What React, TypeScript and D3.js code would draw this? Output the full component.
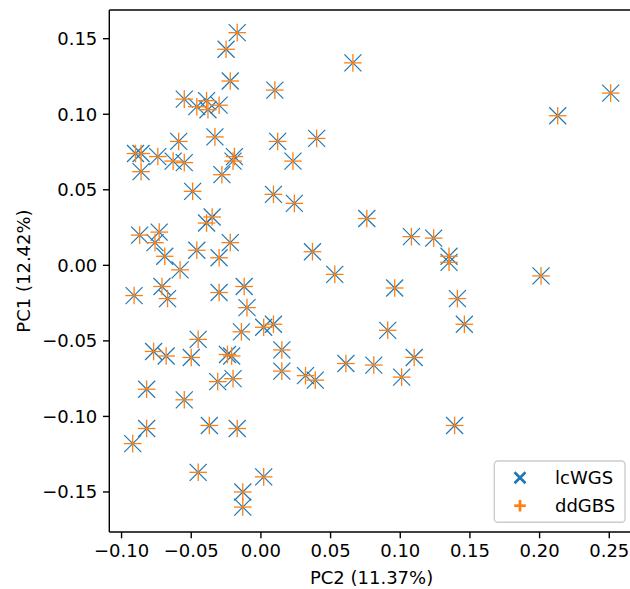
import React from "react";
import * as d3 from "d3";

// PC2 (x) / PC1 (y) scores
const lcwgsPC2 = [
  -0.017, -0.025, 0.066, -0.022, 0.01, 0.251, -0.055, -0.046, -0.039, -0.038,
  -0.03, 0.213, -0.059, -0.033, 0.012, 0.04, -0.09, -0.086, -0.086, -0.074,
  -0.063, -0.055, -0.019, -0.02, 0.023, -0.028, -0.049, 0.009, 0.024, 0.076,
  -0.087, -0.073, -0.076, -0.039, -0.035, -0.069, -0.046, -0.03, -0.022, 0.037,
  0.108, 0.124, 0.135, 0.135, -0.058, 0.053, 0.201, -0.091, -0.071, -0.067,
  -0.03, -0.012, -0.01, 0.096, 0.141, -0.014, 0.002, 0.009, 0.146, 0.091,
  -0.045, -0.077, -0.068, -0.05, -0.024, -0.021, 0.015, 0.015, 0.032, 0.039,
  0.061, 0.081, 0.11, 0.101, -0.031, -0.02, -0.082, -0.055, 0.139, -0.037,
  -0.017, -0.082, -0.092, -0.045, 0.002, -0.013, -0.013,
];
const lcwgsPC1 = [
  0.154, 0.143, 0.134, 0.122, 0.116, 0.114, 0.11, 0.105, 0.109, 0.103,
  0.106, 0.099, 0.082, 0.085, 0.082, 0.084, 0.074, 0.074, 0.062, 0.072,
  0.069, 0.068, 0.072, 0.069, 0.069, 0.06, 0.049, 0.047, 0.041, 0.031,
  0.02, 0.022, 0.015, 0.028, 0.032, 0.006, 0.01, 0.005, 0.015, 0.009,
  0.019, 0.018, 0.006, 0.002, -0.003, -0.006, -0.007, -0.02, -0.014, -0.022,
  -0.018, -0.014, -0.028, -0.015, -0.022, -0.044, -0.041, -0.039, -0.039, -0.043,
  -0.049, -0.057, -0.06, -0.061, -0.059, -0.06, -0.056, -0.07, -0.073, -0.076,
  -0.065, -0.066, -0.061, -0.074, -0.077, -0.075, -0.082, -0.089, -0.106, -0.106,
  -0.108, -0.108, -0.118, -0.137, -0.14, -0.15, -0.16,
];
const ddgbsPC2 = [
  -0.017, -0.025, 0.066, -0.022, 0.01, 0.251, -0.055, -0.046, -0.039, -0.038,
  -0.03, 0.213, -0.059, -0.033, 0.012, 0.04, -0.09, -0.086, -0.086, -0.074,
  -0.063, -0.055, -0.019, -0.02, 0.023, -0.028, -0.049, 0.009, 0.024, 0.076,
  -0.087, -0.073, -0.076, -0.039, -0.035, -0.069, -0.046, -0.03, -0.022, 0.037,
  0.108, 0.124, 0.135, 0.135, -0.058, 0.053, 0.201, -0.091, -0.071, -0.067,
  -0.03, -0.012, -0.01, 0.096, 0.141, -0.014, 0.002, 0.009, 0.146, 0.091,
  -0.045, -0.077, -0.068, -0.05, -0.024, -0.021, 0.015, 0.015, 0.032, 0.039,
  0.061, 0.081, 0.11, 0.101, -0.031, -0.02, -0.082, -0.055, 0.139, -0.037,
  -0.017, -0.082, -0.092, -0.045, 0.002, -0.013, -0.013,
];
const ddgbsPC1 = [
  0.154, 0.143, 0.134, 0.122, 0.116, 0.114, 0.11, 0.105, 0.109, 0.103,
  0.106, 0.099, 0.082, 0.085, 0.082, 0.084, 0.074, 0.074, 0.062, 0.072,
  0.069, 0.068, 0.072, 0.069, 0.069, 0.06, 0.049, 0.047, 0.041, 0.031,
  0.02, 0.022, 0.015, 0.028, 0.032, 0.006, 0.01, 0.005, 0.015, 0.009,
  0.019, 0.018, 0.006, 0.002, -0.003, -0.006, -0.007, -0.02, -0.014, -0.022,
  -0.018, -0.014, -0.028, -0.015, -0.022, -0.044, -0.041, -0.039, -0.039, -0.043,
  -0.049, -0.057, -0.06, -0.061, -0.059, -0.06, -0.056, -0.07, -0.073, -0.076,
  -0.065, -0.066, -0.061, -0.074, -0.077, -0.075, -0.082, -0.089, -0.106, -0.106,
  -0.108, -0.108, -0.118, -0.137, -0.14, -0.15, -0.16,
];

const xTicks = [-0.1, -0.05, 0, 0.05, 0.1, 0.15, 0.2, 0.25];
const yTicks = [-0.15, -0.1, -0.05, 0, 0.05, 0.1, 0.15];

const BLUE = "#1f77b4";
const ORANGE = "#ff7f0e";
const FONT = "DejaVu Sans, sans-serif";

const Cross = ({ cx, cy, r, color, sw }) => (
  <g stroke={color} strokeWidth={sw}>
    <line x1={cx - r} y1={cy - r} x2={cx + r} y2={cy + r} />
    <line x1={cx - r} y1={cy + r} x2={cx + r} y2={cy - r} />
  </g>
);

const Plus = ({ cx, cy, r, color, sw }) => (
  <g stroke={color} strokeWidth={sw}>
    <line x1={cx - r} y1={cy} x2={cx + r} y2={cy} />
    <line x1={cx} y1={cy - r} x2={cx} y2={cy + r} />
  </g>
);

export default function App() {
  const width = 630;
  const height = 589;
  const left = 109.3;
  const right = 633.8;
  const top = 10;
  const bottom = 532;

  const x = d3.scaleLinear().domain([-0.1088, 0.2676]).range([left, right]);
  const y = d3.scaleLinear().domain([-0.1765, 0.169]).range([bottom, top]);
  const fmt = d3.format(".2f");

  return (
    <svg
      width={width}
      height={height}
      style={{ position: "absolute", left: 0, top: 0, background: "#fff" }}
      fontFamily={FONT}
    >
      <rect width={width} height={height} fill="#fff" />

      {lcwgsPC2.map((v, i) => (
        <Cross key={"l" + i} cx={x(v)} cy={y(lcwgsPC1[i])} r={8.5} color={BLUE} sw={1.2} />
      ))}
      {ddgbsPC2.map((v, i) => (
        <Plus key={"d" + i} cx={x(v)} cy={y(ddgbsPC1[i])} r={8.8} color={ORANGE} sw={1.3} />
      ))}

      {/* spines */}
      <g stroke="#000" strokeWidth={1.4} fill="none">
        <line x1={left} y1={top} x2={left} y2={bottom} />
        <line x1={left} y1={bottom} x2={right} y2={bottom} />
        <line x1={left} y1={top} x2={right} y2={top} />
        <line x1={right} y1={top} x2={right} y2={bottom} />
      </g>

      {xTicks.map(t => (
        <g key={"x" + t}>
          <line x1={x(t)} x2={x(t)} y1={bottom} y2={bottom + 6.3} stroke="#000" strokeWidth={1.4} />
          <text x={x(t)} y={bottom + 25} textAnchor="middle" fontSize={18}>
            {fmt(t)}
          </text>
        </g>
      ))}
      {yTicks.map(t => (
        <g key={"y" + t}>
          <line x1={left - 6.3} x2={left} y1={y(t)} y2={y(t)} stroke="#000" strokeWidth={1.4} />
          <text x={left - 12} y={y(t) + 6.5} textAnchor="end" fontSize={18}>
            {fmt(t)}
          </text>
        </g>
      ))}

      <text x={(left + right) / 2} y={584} textAnchor="middle" fontSize={18}>
        PC2 (11.37%)
      </text>
      <text
        transform={`translate(30 ${(top + bottom) / 2}) rotate(-90)`}
        textAnchor="middle"
        fontSize={18}
      >
        PC1 (12.42%)
      </text>

      {/* legend */}
      <g>
        <rect x={494.3} y={461} width={130.7} height={61.3} rx={3.6} fill="#fff" fillOpacity={0.8} stroke="#cccccc" strokeWidth={1.4} />
        <Cross cx={520} cy={477.7} r={5.5} color={BLUE} sw={2.7} />
        <Plus cx={520} cy={505.7} r={5.8} color={ORANGE} sw={2.7} />
        <text x={555} y={483.5} fontSize={18}>lcWGS</text>
        <text x={555} y={511.7} fontSize={18}>ddGBS</text>
      </g>
    </svg>
  );
}
